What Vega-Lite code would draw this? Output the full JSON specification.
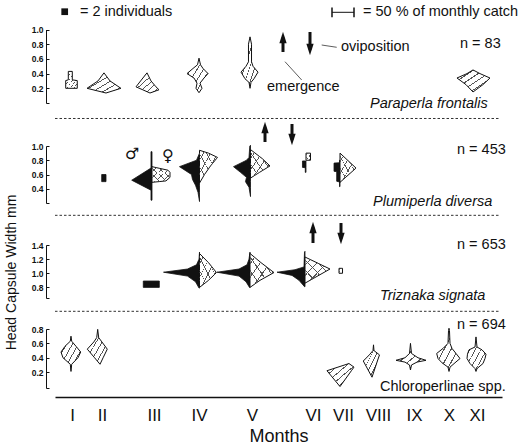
{
"$schema":"https://vega.github.io/schema/vega-lite/v6.json",
"autosize":{"type":"none"},
"padding":{"left":55,"top":0,"right":20,"bottom":51},
"width":447,"height":397,
"config":{"view":{"stroke":null},"font":"Liberation Sans",
 "axis":{"grid":false},
 "axisY":{"domainColor":"#111","tickColor":"#111","tickSize":-3,"labelFontSize":8.5,"labelFontWeight":"bold","labelColor":"#111","labelPadding":6,"grid":false,"labelOverlap":false,"labelBound":false,"labelFlush":false}},
"datasets":{
"kites":[
{"p":"P1","k":"I","s":"u","c":17,"v":0.2,"l":14.3,"r":12},
{"p":"P1","k":"I","s":"u","c":17,"v":0.305,"l":14.3,"r":12},
{"p":"P1","k":"I","s":"u","c":17,"v":0.315,"l":8.4,"r":0.7},
{"p":"P1","k":"I","s":"u","c":17,"v":0.43,"l":8.4,"r":0.7},
{"p":"P1","k":"II","s":"u","c":47,"v":0.136,"l":-9.1,"r":9.1},
{"p":"P1","k":"II","s":"u","c":47,"v":0.2,"l":34,"r":43},
{"p":"P1","k":"II","s":"u","c":47,"v":0.3,"l":9.1,"r":18.2},
{"p":"P1","k":"II","s":"u","c":47,"v":0.41,"l":-4.5,"r":4.5},
{"p":"P1","k":"III","s":"u","c":99,"v":0.136,"l":9.1,"r":-9.1},
{"p":"P1","k":"III","s":"u","c":99,"v":0.18,"l":25.7,"r":11.4},
{"p":"P1","k":"III","s":"u","c":99,"v":0.22,"l":40.9,"r":4.5},
{"p":"P1","k":"III","s":"u","c":99,"v":0.3,"l":30.5,"r":-6.8},
{"p":"P1","k":"III","s":"u","c":99,"v":0.41,"l":15.9,"r":-15.9},
{"p":"P1","k":"IV","s":"u","c":144,"v":0.14,"l":0,"r":0},
{"p":"P1","k":"IV","s":"u","c":144,"v":0.2,"l":6.8,"r":6.8},
{"p":"P1","k":"IV","s":"u","c":144,"v":0.27,"l":4.5,"r":2.3},
{"p":"P1","k":"IV","s":"u","c":144,"v":0.34,"l":11.4,"r":11.4},
{"p":"P1","k":"IV","s":"u","c":144,"v":0.4,"l":27.3,"r":20.5},
{"p":"P1","k":"IV","s":"u","c":144,"v":0.47,"l":13.6,"r":9.1},
{"p":"P1","k":"IV","s":"u","c":144,"v":0.52,"l":3.4,"r":3.4},
{"p":"P1","k":"IV","s":"u","c":144,"v":0.61,"l":0,"r":0},
{"p":"P1","k":"V","s":"u","c":197,"v":0.2,"l":4.5,"r":-4.5},
{"p":"P1","k":"V","s":"u","c":197,"v":0.28,"l":6.8,"r":-2.3},
{"p":"P1","k":"V","s":"u","c":197,"v":0.33,"l":15.9,"r":4.5},
{"p":"P1","k":"V","s":"u","c":197,"v":0.42,"l":25,"r":13.6},
{"p":"P1","k":"V","s":"u","c":197,"v":0.5,"l":13.6,"r":2.3},
{"p":"P1","k":"V","s":"u","c":197,"v":0.56,"l":8,"r":-1.1},
{"p":"P1","k":"V","s":"u","c":197,"v":0.8,"l":8,"r":-1.1},
{"p":"P1","k":"V","s":"u","c":197,"v":0.9,"l":4.5,"r":-4.5},
{"p":"P1","k":"XI","s":"u","c":422,"v":0.15,"l":9.1,"r":-9.1},
{"p":"P1","k":"XI","s":"u","c":422,"v":0.25,"l":25,"r":13.6},
{"p":"P1","k":"XI","s":"u","c":422,"v":0.34,"l":45.5,"r":29.5},
{"p":"P1","k":"XI","s":"u","c":422,"v":0.4,"l":22.7,"r":6.8},
{"p":"P1","k":"XI","s":"u","c":422,"v":0.45,"l":9.1,"r":-9.1},
{"p":"P2","k":"II","s":"m","c":47,"v":0.5,"l":0.7,"r":9.1},
{"p":"P2","k":"II","s":"m","c":47,"v":0.6,"l":0.7,"r":9.1},
{"p":"P2","k":"III","s":"m","c":97,"v":0.24,"l":2.3,"r":0},
{"p":"P2","k":"III","s":"m","c":97,"v":0.38,"l":2.3,"r":0},
{"p":"P2","k":"III","s":"m","c":97,"v":0.52,"l":46.1,"r":0},
{"p":"P2","k":"III","s":"m","c":97,"v":0.69,"l":2.3,"r":0},
{"p":"P2","k":"III","s":"m","c":97,"v":0.92,"l":2.3,"r":0},
{"p":"P2","k":"III","s":"f","c":97,"v":0.49,"l":0,"r":0},
{"p":"P2","k":"III","s":"f","c":97,"v":0.51,"l":0,"r":31.8},
{"p":"P2","k":"III","s":"f","c":97,"v":0.56,"l":0,"r":40.9},
{"p":"P2","k":"III","s":"f","c":97,"v":0.63,"l":0,"r":40.9},
{"p":"P2","k":"III","s":"f","c":97,"v":0.66,"l":0,"r":36.4},
{"p":"P2","k":"III","s":"f","c":97,"v":0.71,"l":0,"r":0},
{"p":"P2","k":"IV","s":"m","c":144.5,"v":0.22,"l":0,"r":0},
{"p":"P2","k":"IV","s":"m","c":144.5,"v":0.35,"l":3.4,"r":0},
{"p":"P2","k":"IV","s":"m","c":144.5,"v":0.45,"l":9.1,"r":0},
{"p":"P2","k":"IV","s":"m","c":144.5,"v":0.53,"l":15.9,"r":0},
{"p":"P2","k":"IV","s":"m","c":144.5,"v":0.6,"l":18.2,"r":0},
{"p":"P2","k":"IV","s":"m","c":144.5,"v":0.71,"l":45.5,"r":0},
{"p":"P2","k":"IV","s":"m","c":144.5,"v":0.8,"l":6.8,"r":0},
{"p":"P2","k":"IV","s":"m","c":144.5,"v":0.9,"l":0,"r":0},
{"p":"P2","k":"IV","s":"f","c":144.5,"v":0.48,"l":0,"r":0},
{"p":"P2","k":"IV","s":"f","c":144.5,"v":0.6,"l":0,"r":11.4},
{"p":"P2","k":"IV","s":"f","c":144.5,"v":0.72,"l":0,"r":25},
{"p":"P2","k":"IV","s":"f","c":144.5,"v":0.84,"l":0,"r":40.9},
{"p":"P2","k":"IV","s":"f","c":144.5,"v":0.9,"l":0,"r":20.5},
{"p":"P2","k":"IV","s":"f","c":144.5,"v":0.94,"l":0,"r":0},
{"p":"P2","k":"V","s":"m","c":195.5,"v":0.29,"l":0,"r":0},
{"p":"P2","k":"V","s":"m","c":195.5,"v":0.42,"l":3.4,"r":0},
{"p":"P2","k":"V","s":"m","c":195.5,"v":0.5,"l":11.4,"r":0},
{"p":"P2","k":"V","s":"m","c":195.5,"v":0.56,"l":9.1,"r":0},
{"p":"P2","k":"V","s":"m","c":195.5,"v":0.63,"l":22.7,"r":0},
{"p":"P2","k":"V","s":"m","c":195.5,"v":0.71,"l":38.6,"r":0},
{"p":"P2","k":"V","s":"m","c":195.5,"v":0.8,"l":9.1,"r":0},
{"p":"P2","k":"V","s":"m","c":195.5,"v":0.84,"l":3.4,"r":0},
{"p":"P2","k":"V","s":"m","c":195.5,"v":1.0,"l":1.6,"r":0},
{"p":"P2","k":"V","s":"m","c":195.5,"v":1.01,"l":0,"r":0},
{"p":"P2","k":"V","s":"f","c":195.5,"v":0.55,"l":0,"r":0},
{"p":"P2","k":"V","s":"f","c":195.5,"v":0.63,"l":0,"r":20.5},
{"p":"P2","k":"V","s":"f","c":195.5,"v":0.72,"l":0,"r":44.3},
{"p":"P2","k":"V","s":"f","c":195.5,"v":0.82,"l":0,"r":27.3},
{"p":"P2","k":"V","s":"f","c":195.5,"v":0.95,"l":0,"r":0},
{"p":"P2","k":"VI","s":"m","c":251,"v":0.63,"l":1.6,"r":0},
{"p":"P2","k":"VI","s":"m","c":251,"v":0.695,"l":1.6,"r":0},
{"p":"P2","k":"VI","s":"m","c":251,"v":0.7,"l":8,"r":0},
{"p":"P2","k":"VI","s":"m","c":251,"v":0.79,"l":8,"r":0},
{"p":"P2","k":"VI","s":"f","c":251,"v":0.8,"l":0,"r":10.2},
{"p":"P2","k":"VI","s":"f","c":251,"v":0.9,"l":0,"r":10.2},
{"p":"P2","k":"VII","s":"m","c":285,"v":0.43,"l":1.1,"r":0},
{"p":"P2","k":"VII","s":"m","c":285,"v":0.495,"l":1.1,"r":0},
{"p":"P2","k":"VII","s":"m","c":285,"v":0.505,"l":7.5,"r":0},
{"p":"P2","k":"VII","s":"m","c":285,"v":0.64,"l":7.5,"r":0},
{"p":"P2","k":"VII","s":"m","c":285,"v":0.645,"l":13.6,"r":0},
{"p":"P2","k":"VII","s":"m","c":285,"v":0.76,"l":13.6,"r":0},
{"p":"P2","k":"VII","s":"m","c":285,"v":0.765,"l":1.1,"r":0},
{"p":"P2","k":"VII","s":"m","c":285,"v":0.8,"l":1.1,"r":0},
{"p":"P2","k":"VII","s":"f","c":285,"v":0.49,"l":0,"r":0},
{"p":"P2","k":"VII","s":"f","c":285,"v":0.69,"l":0,"r":36.4},
{"p":"P2","k":"VII","s":"f","c":285,"v":0.9,"l":0,"r":0},
{"p":"P3","k":"III","s":"m","c":97,"v":0.8,"l":19.8,"r":16.6},
{"p":"P3","k":"III","s":"m","c":97,"v":0.89,"l":19.8,"r":16.6},
{"p":"P3","k":"IV","s":"m","c":144.5,"v":0.79,"l":1.1,"r":0},
{"p":"P3","k":"IV","s":"m","c":144.5,"v":0.88,"l":9.1,"r":0},
{"p":"P3","k":"IV","s":"m","c":144.5,"v":0.96,"l":27.3,"r":0},
{"p":"P3","k":"IV","s":"m","c":144.5,"v":1.015,"l":81.8,"r":0},
{"p":"P3","k":"IV","s":"m","c":144.5,"v":1.06,"l":27.3,"r":0},
{"p":"P3","k":"IV","s":"m","c":144.5,"v":1.12,"l":6.8,"r":0},
{"p":"P3","k":"IV","s":"m","c":144.5,"v":1.2,"l":1.1,"r":0},
{"p":"P3","k":"IV","s":"m","c":144.5,"v":1.3,"l":0,"r":0},
{"p":"P3","k":"IV","s":"f","c":144.5,"v":0.8,"l":0,"r":0},
{"p":"P3","k":"IV","s":"f","c":144.5,"v":0.9,"l":0,"r":20.5},
{"p":"P3","k":"IV","s":"f","c":144.5,"v":1.01,"l":0,"r":38.6},
{"p":"P3","k":"IV","s":"f","c":144.5,"v":1.15,"l":0,"r":20.5},
{"p":"P3","k":"IV","s":"f","c":144.5,"v":1.28,"l":0,"r":0},
{"p":"P3","k":"V","s":"m","c":195,"v":0.8,"l":1.1,"r":0},
{"p":"P3","k":"V","s":"m","c":195,"v":0.88,"l":9.1,"r":0},
{"p":"P3","k":"V","s":"m","c":195,"v":0.96,"l":25,"r":0},
{"p":"P3","k":"V","s":"m","c":195,"v":1.015,"l":75,"r":0},
{"p":"P3","k":"V","s":"m","c":195,"v":1.06,"l":25,"r":0},
{"p":"P3","k":"V","s":"m","c":195,"v":1.12,"l":6.8,"r":0},
{"p":"P3","k":"V","s":"m","c":195,"v":1.2,"l":2.3,"r":0},
{"p":"P3","k":"V","s":"m","c":195,"v":1.3,"l":0,"r":0},
{"p":"P3","k":"V","s":"f","c":195,"v":0.8,"l":0,"r":0},
{"p":"P3","k":"V","s":"f","c":195,"v":0.9,"l":0,"r":22.7},
{"p":"P3","k":"V","s":"f","c":195,"v":1.01,"l":0,"r":54.5},
{"p":"P3","k":"V","s":"f","c":195,"v":1.15,"l":0,"r":25},
{"p":"P3","k":"V","s":"f","c":195,"v":1.28,"l":0,"r":0},
{"p":"P3","k":"VI","s":"m","c":250,"v":0.81,"l":1.1,"r":0},
{"p":"P3","k":"VI","s":"m","c":250,"v":0.9,"l":13.6,"r":0},
{"p":"P3","k":"VI","s":"m","c":250,"v":0.97,"l":29.5,"r":0},
{"p":"P3","k":"VI","s":"m","c":250,"v":1.015,"l":63.6,"r":0},
{"p":"P3","k":"VI","s":"m","c":250,"v":1.05,"l":22.7,"r":0},
{"p":"P3","k":"VI","s":"m","c":250,"v":1.09,"l":2.3,"r":0},
{"p":"P3","k":"VI","s":"m","c":250,"v":1.3,"l":1.1,"r":0},
{"p":"P3","k":"VI","s":"m","c":250,"v":1.31,"l":0,"r":0},
{"p":"P3","k":"VI","s":"f","c":250,"v":0.86,"l":0,"r":0},
{"p":"P3","k":"VI","s":"f","c":250,"v":1.06,"l":0,"r":56.8},
{"p":"P3","k":"VI","s":"f","c":250,"v":1.23,"l":0,"r":0},
{"p":"P3","k":"VII","s":"f","c":284,"v":1.0,"l":0,"r":8},
{"p":"P3","k":"VII","s":"f","c":284,"v":1.07,"l":0,"r":8},
{"p":"P4","k":"I","s":"u","c":17,"v":0.21,"l":2.3,"r":-2.3},
{"p":"P4","k":"I","s":"u","c":17,"v":0.31,"l":3.9,"r":-0.7},
{"p":"P4","k":"I","s":"u","c":17,"v":0.4,"l":20.5,"r":13.6},
{"p":"P4","k":"I","s":"u","c":17,"v":0.48,"l":25,"r":19.8},
{"p":"P4","k":"I","s":"u","c":17,"v":0.56,"l":15.9,"r":9.1},
{"p":"P4","k":"I","s":"u","c":17,"v":0.63,"l":3.9,"r":-0.7},
{"p":"P4","k":"I","s":"u","c":17,"v":0.7,"l":2.3,"r":-2.3},
{"p":"P4","k":"II","s":"u","c":47,"v":0.31,"l":4.5,"r":-4.5},
{"p":"P4","k":"II","s":"u","c":47,"v":0.4,"l":16.8,"r":2.5},
{"p":"P4","k":"II","s":"u","c":47,"v":0.52,"l":33.4,"r":12},
{"p":"P4","k":"II","s":"u","c":47,"v":0.62,"l":18.6,"r":-0.2},
{"p":"P4","k":"II","s":"u","c":47,"v":0.68,"l":12,"r":-7.5},
{"p":"P4","k":"II","s":"u","c":47,"v":0.795,"l":9.8,"r":-9.8},
{"p":"P4","k":"VII","s":"u","c":288,"v":0.0,"l":6.8,"r":-6.8},
{"p":"P4","k":"VII","s":"u","c":288,"v":0.22,"l":36.4,"r":19.1},
{"p":"P4","k":"VII","s":"u","c":288,"v":0.27,"l":11.4,"r":25},
{"p":"P4","k":"VII","s":"u","c":288,"v":0.32,"l":-13.6,"r":13.6},
{"p":"P4","k":"VIII","s":"u","c":323,"v":0.13,"l":13.6,"r":-13.6},
{"p":"P4","k":"VIII","s":"u","c":323,"v":0.355,"l":33.4,"r":-1.4},
{"p":"P4","k":"VIII","s":"u","c":323,"v":0.44,"l":19.8,"r":3.4},
{"p":"P4","k":"VIII","s":"u","c":323,"v":0.5,"l":11.4,"r":-9.1},
{"p":"P4","k":"VIII","s":"u","c":323,"v":0.58,"l":10.2,"r":-10.2},
{"p":"P4","k":"IX","s":"u","c":359,"v":0.23,"l":8,"r":-8},
{"p":"P4","k":"IX","s":"u","c":359,"v":0.3,"l":10.2,"r":-5.7},
{"p":"P4","k":"IX","s":"u","c":359,"v":0.34,"l":20.5,"r":6.8},
{"p":"P4","k":"IX","s":"u","c":359,"v":0.365,"l":40.9,"r":27.3},
{"p":"P4","k":"IX","s":"u","c":359,"v":0.4,"l":20.5,"r":9.1},
{"p":"P4","k":"IX","s":"u","c":359,"v":0.46,"l":10.2,"r":-5.7},
{"p":"P4","k":"IX","s":"u","c":359,"v":0.6,"l":8,"r":-8},
{"p":"P4","k":"X","s":"u","c":394,"v":0.21,"l":0,"r":0},
{"p":"P4","k":"X","s":"u","c":394,"v":0.27,"l":2.3,"r":2.3},
{"p":"P4","k":"X","s":"u","c":394,"v":0.33,"l":15.9,"r":13.6},
{"p":"P4","k":"X","s":"u","c":394,"v":0.39,"l":25,"r":25},
{"p":"P4","k":"X","s":"u","c":394,"v":0.46,"l":28,"r":15.9},
{"p":"P4","k":"X","s":"u","c":394,"v":0.53,"l":13.6,"r":6.8},
{"p":"P4","k":"X","s":"u","c":394,"v":0.6,"l":2.3,"r":2.3},
{"p":"P4","k":"X","s":"u","c":394,"v":0.78,"l":1.1,"r":1.1},
{"p":"P4","k":"X","s":"u","c":394,"v":0.81,"l":0,"r":0},
{"p":"P4","k":"XI","s":"u","c":422,"v":0.21,"l":2.3,"r":-2.3},
{"p":"P4","k":"XI","s":"u","c":422,"v":0.25,"l":4.5,"r":0},
{"p":"P4","k":"XI","s":"u","c":422,"v":0.32,"l":15.9,"r":13.6},
{"p":"P4","k":"XI","s":"u","c":422,"v":0.39,"l":22.7,"r":18.2},
{"p":"P4","k":"XI","s":"u","c":422,"v":0.45,"l":21.6,"r":20.5},
{"p":"P4","k":"XI","s":"u","c":422,"v":0.51,"l":18.2,"r":11.4},
{"p":"P4","k":"XI","s":"u","c":422,"v":0.55,"l":4.5,"r":0},
{"p":"P4","k":"XI","s":"u","c":422,"v":0.69,"l":2.3,"r":-2.3}
],
"notes":[
{"p":"P1","f":"n","t":25,"v":1.238,"txt":"= 2 individuals"},
{"p":"P1","f":"n","t":308,"v":1.238,"txt":"= 50 % of monthly catch"},
{"p":"P1","f":"n","t":405,"v":0.803,"txt":"n = 83"},
{"p":"P1","f":"n","t":286,"v":0.762,"txt":"oviposition"},
{"p":"P1","f":"n","t":212,"v":0.218,"txt":"emergence"},
{"p":"P1","f":"i","t":315,"v":-0.014,"txt":"Paraperla frontalis"},
{"p":"P2","f":"n","t":402,"v":0.944,"txt":"n = 453"},
{"p":"P2","f":"s","t":70,"v":0.888,"txt":"♂"},
{"p":"P2","f":"s","t":107,"v":0.86,"txt":"♀"},
{"p":"P2","f":"i","t":318,"v":0.214,"txt":"Plumiperla diversa"},
{"p":"P3","f":"n","t":402,"v":1.4,"txt":"n = 653"},
{"p":"P3","f":"i","t":325,"v":0.678,"txt":"Triznaka signata"},
{"p":"P4","f":"n","t":402,"v":0.856,"txt":"n = 694"},
{"p":"P4","f":"n","t":325,"v":-0.006,"txt":"Chloroperlinae spp."}
],
"arrows":[
{"p":"P1","kind":"emergence","t":228,"vh":0.891,"vt":0.694},
{"p":"P1","kind":"oviposition","t":255,"vh":0.728,"vt":0.966},
{"p":"P2","kind":"emergence","t":210,"vh":1.26,"vt":1.056},
{"p":"P2","kind":"oviposition","t":237,"vh":1.091,"vt":1.309},
{"p":"P3","kind":"emergence","t":258,"vh":1.648,"vt":1.428},
{"p":"P3","kind":"oviposition","t":286,"vh":1.492,"vt":1.711}
],
"leaders":[
{"t":266.7,"t2":281.7,"v":0.789,"v2":0.758},
{"t":230,"t2":246.7,"v":0.562,"v2":0.313}
],
"legend":[
{"item":"square","t":9.7,"v":1.242},
{"item":"bar","t":277,"pct":50,"v":1.234}
],
"seps":[
{"p":"P2","v":1.386},
{"p":"P3","v":1.82},
{"p":"P4","v":1.046}
]
},
"layer":[
{"layer":[
 {"data":{"name":"kites"},"transform":[{"filter":"datum.p=='P1' && datum.s=='u'"},{"calculate":"datum.c - datum.l*0.44","as":"xa"},{"calculate":"datum.c + datum.r*0.44","as":"xb"}],
  "mark":{"type":"area","orient":"horizontal","stroke":"#111","strokeWidth":1,"fill":{"gradient":"linear","x1":0,"y1":0,"x2":1,"y2":1,"stops":[{"offset":0,"color":"#ffffff"},{"offset":0.09,"color":"#ffffff"},{"offset":0.09,"color":"#555555"},{"offset":0.115,"color":"#555555"},{"offset":0.115,"color":"#ffffff"},{"offset":0.24,"color":"#ffffff"},{"offset":0.24,"color":"#555555"},{"offset":0.265,"color":"#555555"},{"offset":0.265,"color":"#ffffff"},{"offset":0.39,"color":"#ffffff"},{"offset":0.39,"color":"#555555"},{"offset":0.415,"color":"#555555"},{"offset":0.415,"color":"#ffffff"},{"offset":0.54,"color":"#ffffff"},{"offset":0.54,"color":"#555555"},{"offset":0.565,"color":"#555555"},{"offset":0.565,"color":"#ffffff"},{"offset":0.69,"color":"#ffffff"},{"offset":0.69,"color":"#555555"},{"offset":0.715,"color":"#555555"},{"offset":0.715,"color":"#ffffff"},{"offset":0.84,"color":"#ffffff"},{"offset":0.84,"color":"#555555"},{"offset":0.865,"color":"#555555"},{"offset":0.865,"color":"#ffffff"},{"offset":1,"color":"#ffffff"}]}},
  "encoding":{
   "y":{"field":"v","type":"quantitative","scale":{"domain":[0,1],"range":[103,29.5],"nice":false,"zero":false},"axis":{"orient":"left","offset":9,"values":[0,0.2,0.4,0.6,0.8,1],"labelExpr":"datum.value < 0.1 ? '' : format(datum.value, '.1f')","title":null}},
   "x":{"field":"xa","type":"quantitative","scale":{"domain":[0,447],"nice":false,"zero":false}},
   "x2":{"field":"xb"},"detail":{"field":"k"}}},
 {"data":{"name":"notes"},"transform":[{"filter":"datum.p=='P1' && datum.f=='n'"}],
  "mark":{"type":"text","align":"left","baseline":"middle","fontSize":14.5,"color":"#111"},
  "encoding":{"x":{"field":"t","type":"quantitative","scale":{"domain":[0,447],"nice":false,"zero":false}},"y":{"field":"v","type":"quantitative","scale":{"domain":[0,1],"range":[103,29.5],"nice":false,"zero":false}},"text":{"field":"txt"}}},
 {"data":{"name":"notes"},"transform":[{"filter":"datum.p=='P1' && datum.f=='i'"}],
  "mark":{"type":"text","align":"left","baseline":"middle","fontSize":14.5,"fontStyle":"italic","color":"#111"},
  "encoding":{"x":{"field":"t","type":"quantitative","scale":{"domain":[0,447],"nice":false,"zero":false}},"y":{"field":"v","type":"quantitative","scale":{"domain":[0,1],"range":[103,29.5],"nice":false,"zero":false}},"text":{"field":"txt"}}},
 {"data":{"name":"arrows"},"transform":[{"filter":"datum.p=='P1'"}],
  "mark":{"type":"rule","strokeWidth":3,"color":"#111"},
  "encoding":{"x":{"field":"t","type":"quantitative","scale":{"domain":[0,447],"nice":false,"zero":false}},"y":{"field":"vt","type":"quantitative","scale":{"domain":[0,1],"range":[103,29.5],"nice":false,"zero":false}},"y2":{"field":"vh"}}},
 {"data":{"name":"arrows"},"transform":[{"filter":"datum.p=='P1'"}],
  "mark":{"type":"point","filled":true,"color":"#111","size":130,"opacity":1},
  "encoding":{"x":{"field":"t","type":"quantitative","scale":{"domain":[0,447],"nice":false,"zero":false}},"y":{"field":"vh","type":"quantitative","scale":{"domain":[0,1],"range":[103,29.5],"nice":false,"zero":false}},
   "shape":{"field":"kind","type":"nominal","scale":{"domain":["emergence","oviposition"],"range":["M0,-1L0.64,1L-0.64,1Z","M0,1L0.64,-1L-0.64,-1Z"]},"legend":null}}},
 {"data":{"name":"leaders"},
  "mark":{"type":"rule","strokeWidth":0.8,"color":"#333"},
  "encoding":{"x":{"field":"t","type":"quantitative","scale":{"domain":[0,447],"nice":false,"zero":false}},"x2":{"field":"t2"},"y":{"field":"v","type":"quantitative","scale":{"domain":[0,1],"range":[103,29.5],"nice":false,"zero":false}},"y2":{"field":"v2"}}},
 {"data":{"name":"legend"},"transform":[{"filter":"datum.item=='square'"}],
  "mark":{"type":"point","shape":"square","filled":true,"color":"#111","size":45,"opacity":1},
  "encoding":{"x":{"field":"t","type":"quantitative","scale":{"domain":[0,447],"nice":false,"zero":false}},"y":{"field":"v","type":"quantitative","scale":{"domain":[0,1],"range":[103,29.5],"nice":false,"zero":false}}}},
 {"data":{"name":"legend"},"transform":[{"filter":"datum.item=='bar'"},{"calculate":"datum.t + datum.pct*0.44","as":"tb"}],
  "mark":{"type":"rule","strokeWidth":1,"color":"#111"},
  "encoding":{"x":{"field":"t","type":"quantitative","scale":{"domain":[0,447],"nice":false,"zero":false}},"x2":{"field":"tb"},"y":{"field":"v","type":"quantitative","scale":{"domain":[0,1],"range":[103,29.5],"nice":false,"zero":false}}}},
 {"data":{"name":"legend"},"transform":[{"filter":"datum.item=='bar'"}],
  "mark":{"type":"rule","strokeWidth":1.5,"color":"#111"},
  "encoding":{"x":{"field":"t","type":"quantitative","scale":{"domain":[0,447],"nice":false,"zero":false}},"y":{"datum":1.166,"type":"quantitative","scale":{"domain":[0,1],"range":[103,29.5],"nice":false,"zero":false}},"y2":{"datum":1.298}}},
 {"data":{"name":"legend"},"transform":[{"filter":"datum.item=='bar'"},{"calculate":"datum.t + datum.pct*0.44","as":"tb"}],
  "mark":{"type":"rule","strokeWidth":1.5,"color":"#111"},
  "encoding":{"x":{"field":"tb","type":"quantitative","scale":{"domain":[0,447],"nice":false,"zero":false}},"y":{"datum":1.166,"type":"quantitative","scale":{"domain":[0,1],"range":[103,29.5],"nice":false,"zero":false}},"y2":{"datum":1.298}}}
]},
{"layer":[
 {"data":{"name":"kites"},"transform":[{"filter":"datum.p=='P2' && datum.s=='m'"},{"calculate":"datum.c - datum.l*0.44","as":"xa"},{"calculate":"datum.c + datum.r*0.44","as":"xb"}],
  "mark":{"type":"area","orient":"horizontal","stroke":"#111","strokeWidth":0.8,"fill":"#111"},
  "encoding":{
   "y":{"field":"v","type":"quantitative","scale":{"domain":[0.2,1],"range":[203,146],"nice":false,"zero":false},"axis":{"orient":"left","offset":9,"values":[0.2,0.4,0.6,0.8,1],"labelExpr":"datum.value < 0.3 ? '' : format(datum.value, '.1f')","title":null}},
   "x":{"field":"xa","type":"quantitative","scale":{"domain":[0,447],"nice":false,"zero":false}},
   "x2":{"field":"xb"},"detail":{"field":"k"}}},
 {"data":{"name":"kites"},"transform":[{"filter":"datum.p=='P2' && datum.s=='f'"},{"calculate":"datum.c - datum.l*0.44","as":"xa"},{"calculate":"datum.c + datum.r*0.44","as":"xb"}],
  "mark":{"type":"area","orient":"horizontal","stroke":"#111","strokeWidth":1,"fill":"#ffffff"},
  "encoding":{"y":{"field":"v","type":"quantitative","scale":{"domain":[0.2,1],"range":[203,146],"nice":false,"zero":false}},"x":{"field":"xa","type":"quantitative","scale":{"domain":[0,447],"nice":false,"zero":false}},"x2":{"field":"xb"},"detail":{"field":"k"}}},
 {"data":{"name":"kites"},"transform":[{"filter":"datum.p=='P2' && datum.s=='f'"},{"calculate":"datum.c - datum.l*0.44","as":"xa"},{"calculate":"datum.c + datum.r*0.44","as":"xb"}],
  "mark":{"type":"area","orient":"horizontal","fill":{"gradient":"linear","x1":0,"y1":0,"x2":1,"y2":1,"stops":[{"offset":0,"color":"rgba(255,255,255,0)"},{"offset":0.14,"color":"rgba(255,255,255,0)"},{"offset":0.14,"color":"#555555"},{"offset":0.165,"color":"#555555"},{"offset":0.165,"color":"rgba(255,255,255,0)"},{"offset":0.34,"color":"rgba(255,255,255,0)"},{"offset":0.34,"color":"#555555"},{"offset":0.365,"color":"#555555"},{"offset":0.365,"color":"rgba(255,255,255,0)"},{"offset":0.54,"color":"rgba(255,255,255,0)"},{"offset":0.54,"color":"#555555"},{"offset":0.565,"color":"#555555"},{"offset":0.565,"color":"rgba(255,255,255,0)"},{"offset":0.74,"color":"rgba(255,255,255,0)"},{"offset":0.74,"color":"#555555"},{"offset":0.765,"color":"#555555"},{"offset":0.765,"color":"rgba(255,255,255,0)"},{"offset":1,"color":"rgba(255,255,255,0)"}]}},
  "encoding":{"y":{"field":"v","type":"quantitative","scale":{"domain":[0.2,1],"range":[203,146],"nice":false,"zero":false}},"x":{"field":"xa","type":"quantitative","scale":{"domain":[0,447],"nice":false,"zero":false}},"x2":{"field":"xb"},"detail":{"field":"k"}}},
 {"data":{"name":"kites"},"transform":[{"filter":"datum.p=='P2' && datum.s=='f'"},{"calculate":"datum.c - datum.l*0.44","as":"xa"},{"calculate":"datum.c + datum.r*0.44","as":"xb"}],
  "mark":{"type":"area","orient":"horizontal","fill":{"gradient":"linear","x1":1,"y1":0,"x2":0,"y2":1,"stops":[{"offset":0,"color":"rgba(255,255,255,0)"},{"offset":0.14,"color":"rgba(255,255,255,0)"},{"offset":0.14,"color":"#555555"},{"offset":0.165,"color":"#555555"},{"offset":0.165,"color":"rgba(255,255,255,0)"},{"offset":0.34,"color":"rgba(255,255,255,0)"},{"offset":0.34,"color":"#555555"},{"offset":0.365,"color":"#555555"},{"offset":0.365,"color":"rgba(255,255,255,0)"},{"offset":0.54,"color":"rgba(255,255,255,0)"},{"offset":0.54,"color":"#555555"},{"offset":0.565,"color":"#555555"},{"offset":0.565,"color":"rgba(255,255,255,0)"},{"offset":0.74,"color":"rgba(255,255,255,0)"},{"offset":0.74,"color":"#555555"},{"offset":0.765,"color":"#555555"},{"offset":0.765,"color":"rgba(255,255,255,0)"},{"offset":1,"color":"rgba(255,255,255,0)"}]}},
  "encoding":{"y":{"field":"v","type":"quantitative","scale":{"domain":[0.2,1],"range":[203,146],"nice":false,"zero":false}},"x":{"field":"xa","type":"quantitative","scale":{"domain":[0,447],"nice":false,"zero":false}},"x2":{"field":"xb"},"detail":{"field":"k"}}},
 {"data":{"name":"notes"},"transform":[{"filter":"datum.p=='P2' && datum.f=='n'"}],
  "mark":{"type":"text","align":"left","baseline":"middle","fontSize":14.5,"color":"#111"},
  "encoding":{"x":{"field":"t","type":"quantitative","scale":{"domain":[0,447],"nice":false,"zero":false}},"y":{"field":"v","type":"quantitative","scale":{"domain":[0.2,1],"range":[203,146],"nice":false,"zero":false}},"text":{"field":"txt"}}},
 {"data":{"name":"notes"},"transform":[{"filter":"datum.p=='P2' && datum.f=='i'"}],
  "mark":{"type":"text","align":"left","baseline":"middle","fontSize":14.5,"fontStyle":"italic","color":"#111"},
  "encoding":{"x":{"field":"t","type":"quantitative","scale":{"domain":[0,447],"nice":false,"zero":false}},"y":{"field":"v","type":"quantitative","scale":{"domain":[0.2,1],"range":[203,146],"nice":false,"zero":false}},"text":{"field":"txt"}}},
 {"data":{"name":"notes"},"transform":[{"filter":"datum.p=='P2' && datum.f=='s'"}],
  "mark":{"type":"text","align":"left","baseline":"middle","fontSize":16,"font":"DejaVu Sans","color":"#111"},
  "encoding":{"x":{"field":"t","type":"quantitative","scale":{"domain":[0,447],"nice":false,"zero":false}},"y":{"field":"v","type":"quantitative","scale":{"domain":[0.2,1],"range":[203,146],"nice":false,"zero":false}},"text":{"field":"txt"}}},
 {"data":{"name":"arrows"},"transform":[{"filter":"datum.p=='P2'"}],
  "mark":{"type":"rule","strokeWidth":3,"color":"#111"},
  "encoding":{"x":{"field":"t","type":"quantitative","scale":{"domain":[0,447],"nice":false,"zero":false}},"y":{"field":"vt","type":"quantitative","scale":{"domain":[0.2,1],"range":[203,146],"nice":false,"zero":false}},"y2":{"field":"vh"}}},
 {"data":{"name":"arrows"},"transform":[{"filter":"datum.p=='P2'"}],
  "mark":{"type":"point","filled":true,"color":"#111","size":130,"opacity":1},
  "encoding":{"x":{"field":"t","type":"quantitative","scale":{"domain":[0,447],"nice":false,"zero":false}},"y":{"field":"vh","type":"quantitative","scale":{"domain":[0.2,1],"range":[203,146],"nice":false,"zero":false}},
   "shape":{"field":"kind","type":"nominal","scale":{"domain":["emergence","oviposition"],"range":["M0,-1L0.64,1L-0.64,1Z","M0,1L0.64,-1L-0.64,-1Z"]},"legend":null}}},
 {"data":{"name":"seps"},"transform":[{"filter":"datum.p=='P2'"}],
  "mark":{"type":"rule","strokeWidth":1,"strokeDash":[2.5,2],"color":"#333"},
  "encoding":{"x":{"datum":0,"type":"quantitative","scale":{"domain":[0,447],"nice":false,"zero":false}},"x2":{"datum":445},"y":{"field":"v","type":"quantitative","scale":{"domain":[0.2,1],"range":[203,146],"nice":false,"zero":false}}}}
]},
{"layer":[
 {"data":{"name":"kites"},"transform":[{"filter":"datum.p=='P3' && datum.s=='m'"},{"calculate":"datum.c - datum.l*0.44","as":"xa"},{"calculate":"datum.c + datum.r*0.44","as":"xb"}],
  "mark":{"type":"area","orient":"horizontal","stroke":"#111","strokeWidth":0.8,"fill":"#111"},
  "encoding":{
   "y":{"field":"v","type":"quantitative","scale":{"domain":[0.65,1.4],"range":[298,245],"nice":false,"zero":false},"axis":{"orient":"left","offset":9,"values":[0.65,0.8,1,1.2,1.4],"labelExpr":"datum.value < 0.7 ? '' : format(datum.value, '.1f')","title":"Head Capsule Width mm","titleFontSize":14,"titleFontWeight":"normal","titleColor":"#111","titleX":-31,"titleY":272,"titleBaseline":"alphabetic"}},
   "x":{"field":"xa","type":"quantitative","scale":{"domain":[0,447],"nice":false,"zero":false}},
   "x2":{"field":"xb"},"detail":{"field":"k"}}},
 {"data":{"name":"kites"},"transform":[{"filter":"datum.p=='P3' && datum.s=='f'"},{"calculate":"datum.c - datum.l*0.44","as":"xa"},{"calculate":"datum.c + datum.r*0.44","as":"xb"}],
  "mark":{"type":"area","orient":"horizontal","stroke":"#111","strokeWidth":1,"fill":"#ffffff"},
  "encoding":{"y":{"field":"v","type":"quantitative","scale":{"domain":[0.65,1.4],"range":[298,245],"nice":false,"zero":false}},"x":{"field":"xa","type":"quantitative","scale":{"domain":[0,447],"nice":false,"zero":false}},"x2":{"field":"xb"},"detail":{"field":"k"}}},
 {"data":{"name":"kites"},"transform":[{"filter":"datum.p=='P3' && datum.s=='f'"},{"calculate":"datum.c - datum.l*0.44","as":"xa"},{"calculate":"datum.c + datum.r*0.44","as":"xb"}],
  "mark":{"type":"area","orient":"horizontal","fill":{"gradient":"linear","x1":0,"y1":0,"x2":1,"y2":1,"stops":[{"offset":0,"color":"rgba(255,255,255,0)"},{"offset":0.14,"color":"rgba(255,255,255,0)"},{"offset":0.14,"color":"#555555"},{"offset":0.165,"color":"#555555"},{"offset":0.165,"color":"rgba(255,255,255,0)"},{"offset":0.34,"color":"rgba(255,255,255,0)"},{"offset":0.34,"color":"#555555"},{"offset":0.365,"color":"#555555"},{"offset":0.365,"color":"rgba(255,255,255,0)"},{"offset":0.54,"color":"rgba(255,255,255,0)"},{"offset":0.54,"color":"#555555"},{"offset":0.565,"color":"#555555"},{"offset":0.565,"color":"rgba(255,255,255,0)"},{"offset":0.74,"color":"rgba(255,255,255,0)"},{"offset":0.74,"color":"#555555"},{"offset":0.765,"color":"#555555"},{"offset":0.765,"color":"rgba(255,255,255,0)"},{"offset":1,"color":"rgba(255,255,255,0)"}]}},
  "encoding":{"y":{"field":"v","type":"quantitative","scale":{"domain":[0.65,1.4],"range":[298,245],"nice":false,"zero":false}},"x":{"field":"xa","type":"quantitative","scale":{"domain":[0,447],"nice":false,"zero":false}},"x2":{"field":"xb"},"detail":{"field":"k"}}},
 {"data":{"name":"kites"},"transform":[{"filter":"datum.p=='P3' && datum.s=='f'"},{"calculate":"datum.c - datum.l*0.44","as":"xa"},{"calculate":"datum.c + datum.r*0.44","as":"xb"}],
  "mark":{"type":"area","orient":"horizontal","fill":{"gradient":"linear","x1":1,"y1":0,"x2":0,"y2":1,"stops":[{"offset":0,"color":"rgba(255,255,255,0)"},{"offset":0.14,"color":"rgba(255,255,255,0)"},{"offset":0.14,"color":"#555555"},{"offset":0.165,"color":"#555555"},{"offset":0.165,"color":"rgba(255,255,255,0)"},{"offset":0.34,"color":"rgba(255,255,255,0)"},{"offset":0.34,"color":"#555555"},{"offset":0.365,"color":"#555555"},{"offset":0.365,"color":"rgba(255,255,255,0)"},{"offset":0.54,"color":"rgba(255,255,255,0)"},{"offset":0.54,"color":"#555555"},{"offset":0.565,"color":"#555555"},{"offset":0.565,"color":"rgba(255,255,255,0)"},{"offset":0.74,"color":"rgba(255,255,255,0)"},{"offset":0.74,"color":"#555555"},{"offset":0.765,"color":"#555555"},{"offset":0.765,"color":"rgba(255,255,255,0)"},{"offset":1,"color":"rgba(255,255,255,0)"}]}},
  "encoding":{"y":{"field":"v","type":"quantitative","scale":{"domain":[0.65,1.4],"range":[298,245],"nice":false,"zero":false}},"x":{"field":"xa","type":"quantitative","scale":{"domain":[0,447],"nice":false,"zero":false}},"x2":{"field":"xb"},"detail":{"field":"k"}}},
 {"data":{"name":"notes"},"transform":[{"filter":"datum.p=='P3' && datum.f=='n'"}],
  "mark":{"type":"text","align":"left","baseline":"middle","fontSize":14.5,"color":"#111"},
  "encoding":{"x":{"field":"t","type":"quantitative","scale":{"domain":[0,447],"nice":false,"zero":false}},"y":{"field":"v","type":"quantitative","scale":{"domain":[0.65,1.4],"range":[298,245],"nice":false,"zero":false}},"text":{"field":"txt"}}},
 {"data":{"name":"notes"},"transform":[{"filter":"datum.p=='P3' && datum.f=='i'"}],
  "mark":{"type":"text","align":"left","baseline":"middle","fontSize":14.5,"fontStyle":"italic","color":"#111"},
  "encoding":{"x":{"field":"t","type":"quantitative","scale":{"domain":[0,447],"nice":false,"zero":false}},"y":{"field":"v","type":"quantitative","scale":{"domain":[0.65,1.4],"range":[298,245],"nice":false,"zero":false}},"text":{"field":"txt"}}},
 {"data":{"name":"arrows"},"transform":[{"filter":"datum.p=='P3'"}],
  "mark":{"type":"rule","strokeWidth":3,"color":"#111"},
  "encoding":{"x":{"field":"t","type":"quantitative","scale":{"domain":[0,447],"nice":false,"zero":false}},"y":{"field":"vt","type":"quantitative","scale":{"domain":[0.65,1.4],"range":[298,245],"nice":false,"zero":false}},"y2":{"field":"vh"}}},
 {"data":{"name":"arrows"},"transform":[{"filter":"datum.p=='P3'"}],
  "mark":{"type":"point","filled":true,"color":"#111","size":130,"opacity":1},
  "encoding":{"x":{"field":"t","type":"quantitative","scale":{"domain":[0,447],"nice":false,"zero":false}},"y":{"field":"vh","type":"quantitative","scale":{"domain":[0.65,1.4],"range":[298,245],"nice":false,"zero":false}},
   "shape":{"field":"kind","type":"nominal","scale":{"domain":["emergence","oviposition"],"range":["M0,-1L0.64,1L-0.64,1Z","M0,1L0.64,-1L-0.64,-1Z"]},"legend":null}}},
 {"data":{"name":"seps"},"transform":[{"filter":"datum.p=='P3'"}],
  "mark":{"type":"rule","strokeWidth":1,"strokeDash":[2.5,2],"color":"#333"},
  "encoding":{"x":{"datum":0,"type":"quantitative","scale":{"domain":[0,447],"nice":false,"zero":false}},"x2":{"datum":445},"y":{"field":"v","type":"quantitative","scale":{"domain":[0.65,1.4],"range":[298,245],"nice":false,"zero":false}}}}
]},
{"layer":[
 {"data":{"name":"kites"},"transform":[{"filter":"datum.p=='P4' && datum.s=='u'"},{"calculate":"datum.c - datum.l*0.44","as":"xa"},{"calculate":"datum.c + datum.r*0.44","as":"xb"}],
  "mark":{"type":"area","orient":"horizontal","stroke":"#111","strokeWidth":1,"fill":{"gradient":"linear","x1":0,"y1":0,"x2":1,"y2":1,"stops":[{"offset":0,"color":"#ffffff"},{"offset":0.09,"color":"#ffffff"},{"offset":0.09,"color":"#555555"},{"offset":0.115,"color":"#555555"},{"offset":0.115,"color":"#ffffff"},{"offset":0.24,"color":"#ffffff"},{"offset":0.24,"color":"#555555"},{"offset":0.265,"color":"#555555"},{"offset":0.265,"color":"#ffffff"},{"offset":0.39,"color":"#ffffff"},{"offset":0.39,"color":"#555555"},{"offset":0.415,"color":"#555555"},{"offset":0.415,"color":"#ffffff"},{"offset":0.54,"color":"#ffffff"},{"offset":0.54,"color":"#555555"},{"offset":0.565,"color":"#555555"},{"offset":0.565,"color":"#ffffff"},{"offset":0.69,"color":"#ffffff"},{"offset":0.69,"color":"#555555"},{"offset":0.715,"color":"#555555"},{"offset":0.715,"color":"#ffffff"},{"offset":0.84,"color":"#ffffff"},{"offset":0.84,"color":"#555555"},{"offset":0.865,"color":"#555555"},{"offset":0.865,"color":"#ffffff"},{"offset":1,"color":"#ffffff"}]}},
  "encoding":{
   "y":{"field":"v","type":"quantitative","scale":{"domain":[-0.02,0.8],"range":[388,329],"nice":false,"zero":false},"axis":{"orient":"left","offset":9,"values":[-0.02,0.2,0.4,0.6,0.8],"labelExpr":"datum.value < 0.1 ? '' : format(datum.value, '.1f')","title":null}},
   "x":{"field":"xa","type":"quantitative","scale":{"domain":[0,447],"nice":false,"zero":false},
     "axis":{"orient":"bottom","values":[17,47,99,144,197,258,288,323,359,394,422],"labelExpr":"['I','II','III','IV','V','VI','VII','VIII','IX','X','XI'][indexof([17,47,99,144,197,258,288,323,359,394,422], datum.value)]","title":"Months","titleFontSize":18,"titleFontWeight":"normal","titleColor":"#111","titleBaseline":"alphabetic","titleY":44.7,"labelFontSize":17,"labelColor":"#111","labelBaseline":"alphabetic","labelPadding":23.7,"ticks":false,"tickSize":0,"domainColor":"#111","domainWidth":1.5,"labelFlush":false,"labelOverlap":false,"labelBound":false,"grid":false}},
   "x2":{"field":"xb"},"detail":{"field":"k"}}},
 {"data":{"name":"notes"},"transform":[{"filter":"datum.p=='P4' && datum.f=='n'"}],
  "mark":{"type":"text","align":"left","baseline":"middle","fontSize":14.5,"color":"#111"},
  "encoding":{"x":{"field":"t","type":"quantitative","scale":{"domain":[0,447],"nice":false,"zero":false}},"y":{"field":"v","type":"quantitative","scale":{"domain":[-0.02,0.8],"range":[388,329],"nice":false,"zero":false}},"text":{"field":"txt"}}},
 {"data":{"name":"seps"},"transform":[{"filter":"datum.p=='P4'"}],
  "mark":{"type":"rule","strokeWidth":1,"strokeDash":[2.5,2],"color":"#333"},
  "encoding":{"x":{"datum":0,"type":"quantitative","scale":{"domain":[0,447],"nice":false,"zero":false}},"x2":{"datum":445},"y":{"field":"v","type":"quantitative","scale":{"domain":[-0.02,0.8],"range":[388,329],"nice":false,"zero":false}}}}
]}
],
"resolve":{"scale":{"y":"independent"}}
}
